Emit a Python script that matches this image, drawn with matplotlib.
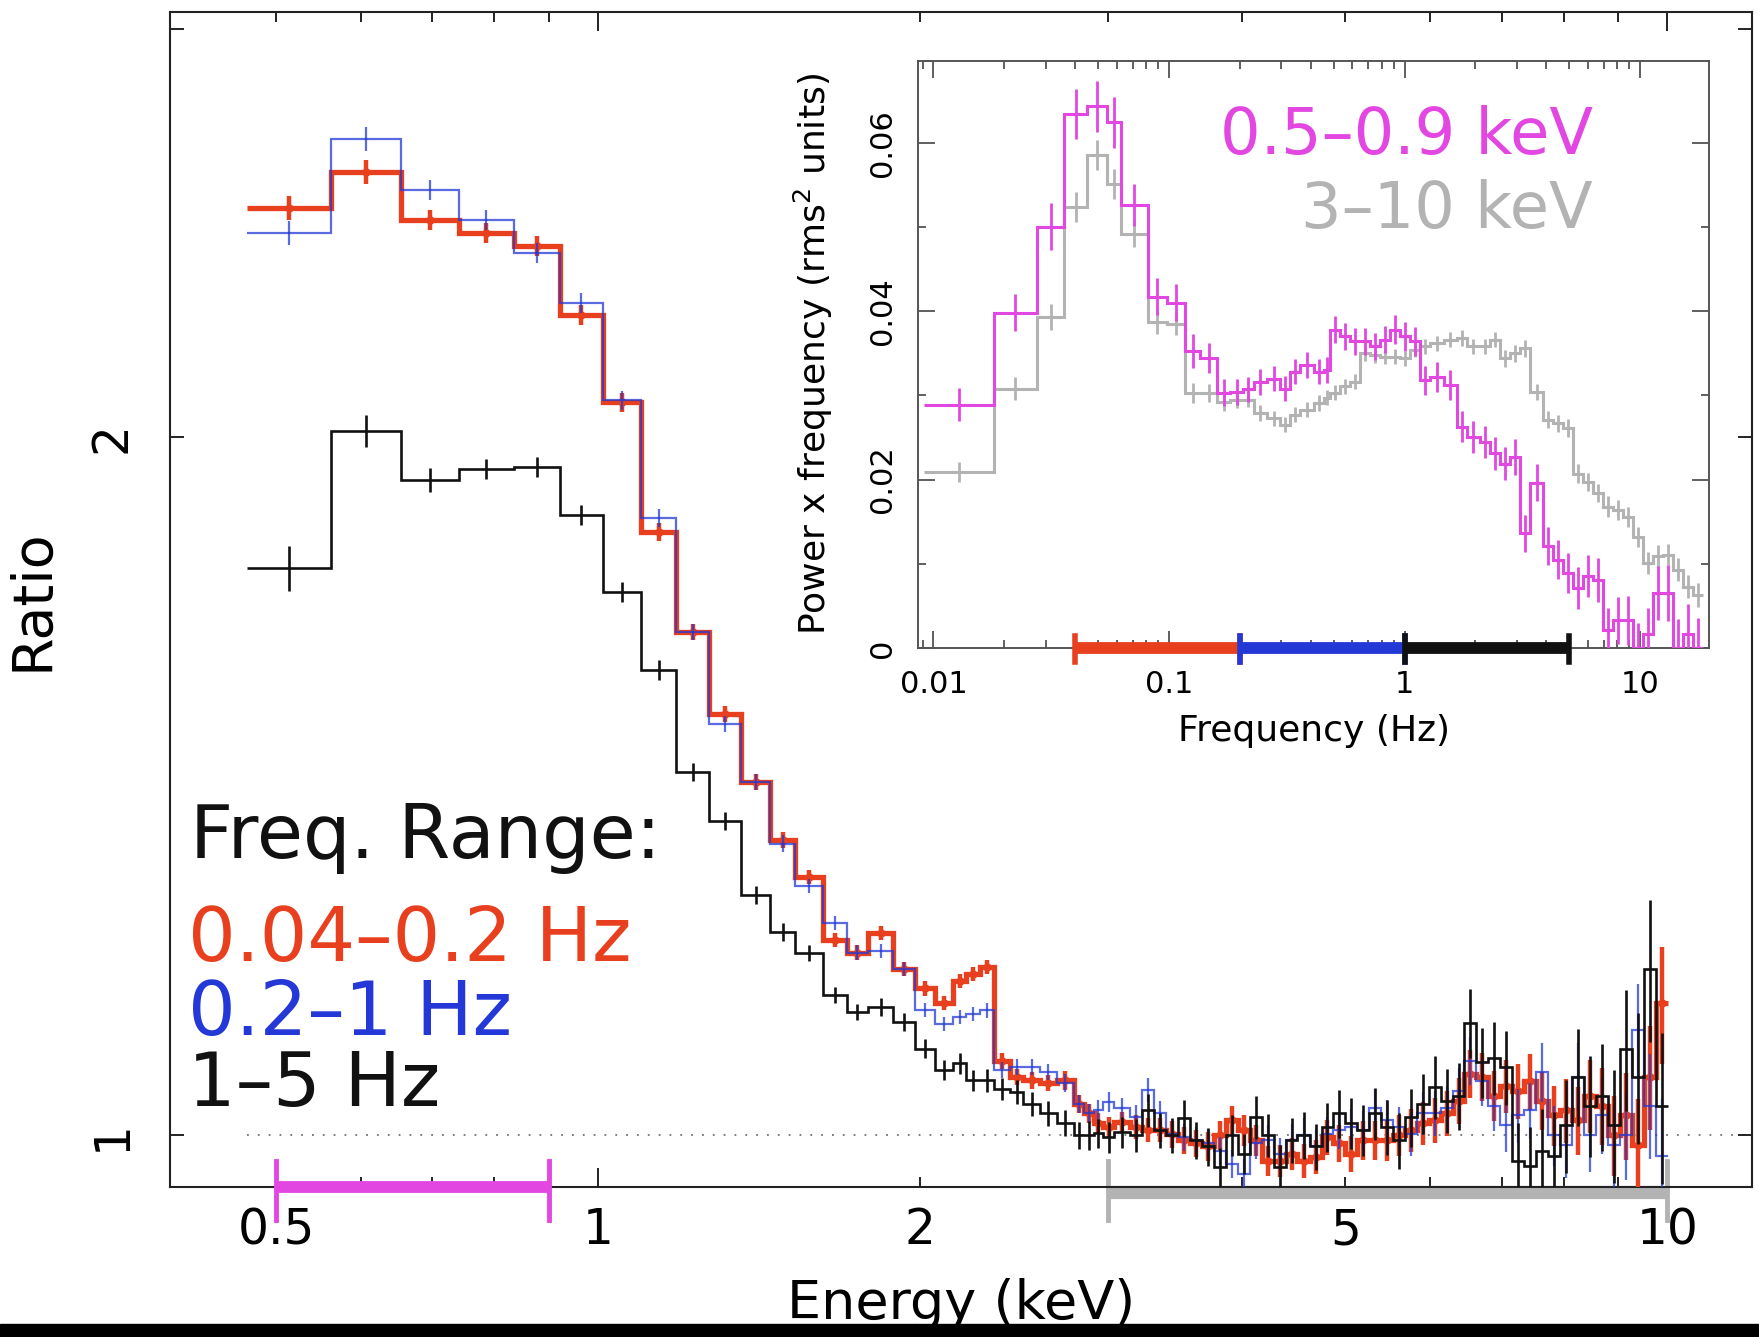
import numpy as np
import matplotlib
matplotlib.use('Agg')
import matplotlib.pyplot as plt
import matplotlib.ticker as mticker
import matplotlib.transforms as mtransforms
from matplotlib.patches import Rectangle

W, H = 1759, 1337

# ---------------- main panel: ratio spectra ----------------
# energy bin edges (keV)
e_edges = [0.47, 0.563, 0.654, 0.742, 0.834, 0.922, 1.01, 1.098, 1.184, 1.27, 1.36, 1.45, 1.529,
           1.625, 1.708, 1.79, 1.889, 1.98, 2.067, 2.15, 2.21, 2.277, 2.344, 2.43, 2.5, 2.59,
           2.687, 2.786, 2.847, 2.907, 2.97, 3.035, 3.145,
           3.23, 3.31, 3.40, 3.49, 3.58, 3.67, 3.77, 3.87, 3.97, 4.07, 4.18, 4.29, 4.40, 4.51,
           4.63, 4.75, 4.87, 5.00, 5.13, 5.26, 5.40, 5.54, 5.68, 5.83, 5.98, 6.14, 6.30,
           6.46, 6.63, 6.80, 6.98, 7.16, 7.35, 7.54, 7.74, 7.94, 8.15, 8.36, 8.58, 8.80,
           9.03, 9.27, 9.51, 9.76, 10.02]

# 0.04-0.2 Hz
ratio_red = [2.510, 2.603, 2.482, 2.449, 2.418, 2.258, 2.070, 1.820, 1.648, 1.519, 1.420, 1.341,
             1.292, 1.214, 1.199, 1.223, 1.180, 1.157, 1.140, 1.166, 1.174, 1.182, 1.077, 1.060,
             1.056, 1.053, 1.056, 1.032, 1.022, 1.012, 1.008, 1.013,
             1.008, 1.005, 1.005, 1.001, 0.995, 0.992, 0.989, 1.000, 1.015, 1.005, 0.995, 0.975,
             0.975, 0.982, 0.975, 0.979, 0.998, 0.992, 0.982, 0.995, 0.995, 0.995, 1.000, 1.005,
             1.012, 1.015, 1.022,
             1.035, 1.063, 1.060, 1.040, 1.050, 1.045, 1.055, 1.035, 1.020, 1.025, 1.015, 1.040,
             1.030, 1.000, 1.020, 0.990, 1.060, 1.140]
# 0.2-1 Hz
ratio_blue = [2.449, 2.689, 2.556, 2.482, 2.402, 2.285, 2.074, 1.845, 1.648, 1.504, 1.420, 1.336,
              1.281, 1.235, 1.199, 1.201, 1.180, 1.133, 1.117, 1.125, 1.128, 1.132, 1.067, 1.070,
              1.070, 1.065, 1.053, 1.032, 1.022, 1.025, 1.034, 1.027,
              1.018, 1.046, 1.022, 1.001, 0.998, 0.995, 0.992, 0.985, 0.972, 0.962, 0.992, 0.995,
              0.982, 0.995, 1.000, 0.989, 1.001, 1.005, 1.008, 1.005, 1.028, 1.015, 1.008, 1.001,
              1.022, 1.022, 1.028,
              1.045, 1.077, 1.055, 1.030, 1.010, 1.020, 1.025, 1.065, 1.000, 0.990, 1.060, 1.000,
              1.020, 0.990, 1.000, 1.110, 1.030, 0.980]
# 1-5 Hz
ratio_black = [1.756, 2.012, 1.916, 1.937, 1.942, 1.852, 1.715, 1.587, 1.434, 1.366, 1.270, 1.224,
               1.198, 1.150, 1.130, 1.136, 1.119, 1.090, 1.067, 1.074, 1.056, 1.056, 1.047, 1.044,
               1.032, 1.022, 1.012, 1.000, 1.000, 1.002, 0.998, 1.003,
               1.000, 1.025, 1.005, 1.000, 1.017, 0.995, 0.989, 0.969, 1.000, 0.982, 1.018, 1.000,
               0.969, 0.995, 1.000, 0.989, 1.008, 1.022, 1.012, 1.005, 1.022, 1.008, 0.995, 1.018,
               1.032, 1.049, 1.035,
               1.040, 1.118, 1.075, 1.080, 1.070, 0.975, 0.970, 0.985, 0.980, 1.010, 1.060, 1.030,
               1.040, 1.010, 1.090, 1.060, 1.180, 1.030]

# fractional 1-sigma errors
err_col = [0.012, 0.012, 0.010, 0.010, 0.010, 0.010, 0.009, 0.009, 0.008, 0.008, 0.008, 0.008,
           0.007, 0.007, 0.007, 0.007, 0.007, 0.007, 0.007, 0.007, 0.007, 0.007, 0.008, 0.008,
           0.008, 0.008, 0.009, 0.009, 0.009, 0.010, 0.010, 0.010,
           0.012, 0.012, 0.012, 0.013, 0.013, 0.013, 0.014, 0.014, 0.014, 0.015, 0.015, 0.015,
           0.016, 0.016, 0.017, 0.017, 0.017, 0.018, 0.018, 0.019, 0.019, 0.020, 0.020, 0.021,
           0.021, 0.022, 0.022,
           0.023, 0.024, 0.024, 0.025, 0.026, 0.027, 0.028, 0.029, 0.030, 0.032, 0.034, 0.036,
           0.038, 0.040, 0.043, 0.047, 0.052, 0.058]
err_blk = [0.022, 0.016, 0.012, 0.010, 0.010, 0.010, 0.010, 0.010, 0.009, 0.009, 0.009, 0.009,
           0.008, 0.008, 0.008, 0.009, 0.009, 0.009, 0.010, 0.010, 0.010, 0.011, 0.011, 0.012,
           0.012, 0.012, 0.013, 0.013, 0.014, 0.014, 0.015, 0.015,
           0.016, 0.016, 0.017, 0.017, 0.018, 0.018, 0.019, 0.019, 0.020, 0.020, 0.021, 0.021,
           0.022, 0.022, 0.023, 0.023, 0.024, 0.024, 0.025, 0.025, 0.026, 0.027, 0.028, 0.029,
           0.030, 0.031, 0.032,
           0.033, 0.034, 0.035, 0.036, 0.037, 0.038, 0.040, 0.042, 0.044, 0.046, 0.048, 0.050,
           0.053, 0.056, 0.060, 0.065, 0.070, 0.075]

# energy bands and frequency bands marked on the axes
band_soft = [0.5, 0.9]
band_hard = [3.0, 10.0]
fband_lo = [0.04, 0.2]
fband_mid = [0.2, 1.0]
fband_hi = [1.0, 5.0]

# ---------------- inset: power spectra ----------------
f_edges = [0.0091, 0.0180, 0.0275, 0.0360, 0.0449, 0.0546, 0.0626, 0.0811, 0.098, 0.1173,
           0.1358, 0.1598, 0.182, 0.206, 0.229, 0.260, 0.297, 0.327, 0.361, 0.411, 0.453,
           0.483, 0.533, 0.588, 0.648, 0.715, 0.788, 0.869, 0.958, 1.056, 1.165, 1.284,
           1.463, 1.666, 1.837, 2.093, 2.307, 2.545, 2.806, 3.094, 3.411, 3.886, 4.284,
           4.724, 5.209, 5.743, 6.332, 6.982, 7.698, 8.489, 9.361, 10.32, 11.38, 12.55,
           13.84, 15.26, 16.82, 18.55]
pow_soft = [0.0289, 0.0398, 0.0500, 0.0634, 0.0643, 0.0624, 0.0526, 0.0417, 0.0410, 0.0353,
            0.0344, 0.0303, 0.0304,
            0.0307, 0.0316, 0.0320, 0.0308, 0.0328, 0.0336, 0.0328, 0.0330, 0.0378, 0.0370,
            0.0364, 0.0364, 0.0358, 0.0366, 0.0378, 0.0370, 0.0364, 0.0318, 0.0322, 0.0312,
            0.0263, 0.0251, 0.0245, 0.0231, 0.0219, 0.0227, 0.0136, 0.0196, 0.0121, 0.0105,
            0.0089, 0.0071, 0.0085, 0.0081, 0.0021, 0.0033, 0.0033, 0.0000, 0.0017, 0.0065,
            0.0065, 0.0000, 0.0017, 0.0000]
pow_hard = [0.0209, 0.0308, 0.0393, 0.0524, 0.0585, 0.0551, 0.0492, 0.0387, 0.0385, 0.0303,
            0.0303, 0.0292, 0.0295,
            0.0295, 0.0279, 0.0273, 0.0265, 0.0277, 0.0283, 0.0291, 0.0297, 0.0303, 0.0311,
            0.0316, 0.0350, 0.0348, 0.0346, 0.0346, 0.0344, 0.0354, 0.0358, 0.0362, 0.0366,
            0.0368, 0.0358, 0.0358, 0.0366, 0.0344, 0.0350, 0.0356, 0.0304, 0.0271, 0.0267,
            0.0261, 0.0207, 0.0197, 0.0184, 0.0168, 0.0164, 0.0156, 0.0132, 0.0101, 0.0109,
            0.0111, 0.0093, 0.0073, 0.0063]
pow_soft_err = [0.0020, 0.0022, 0.0028, 0.0030, 0.0030, 0.0030, 0.0025, 0.0022, 0.0022, 0.0020,
                0.0018, 0.0016, 0.0016,
                0.0015, 0.0015, 0.0015, 0.0015, 0.0015, 0.0015, 0.0015, 0.0015, 0.0016, 0.0016,
                0.0016, 0.0016, 0.0016, 0.0016, 0.0017, 0.0017, 0.0017, 0.0017, 0.0018, 0.0018,
                0.0018, 0.0019, 0.0019, 0.0020, 0.0020, 0.0021, 0.0022, 0.0022, 0.0023, 0.0023,
                0.0024, 0.0025, 0.0025, 0.0026, 0.0027, 0.0028, 0.0029, 0.0030, 0.0031, 0.0032,
                0.0033, 0.0034, 0.0035, 0.0036]
pow_hard_err = [0.0012, 0.0014, 0.0016, 0.0018, 0.0018, 0.0018, 0.0016, 0.0014, 0.0013, 0.0012,
                0.0011, 0.0010, 0.0010,
                0.0009, 0.0009, 0.0009, 0.0009, 0.0009, 0.0009, 0.0009, 0.0009, 0.0009, 0.0009,
                0.0009, 0.0009, 0.0009, 0.0009, 0.0009, 0.0009, 0.0009, 0.0009, 0.0009, 0.0009,
                0.0009, 0.0009, 0.0009, 0.0009, 0.0010, 0.0010, 0.0010, 0.0010, 0.0010, 0.0010,
                0.0011, 0.0011, 0.0011, 0.0011, 0.0012, 0.0012, 0.0012, 0.0012, 0.0013, 0.0013,
                0.0013, 0.0014, 0.0014, 0.0014]

RED = '#e8401e'
BLUE = '#2338d6'
BLACK = '#111111'
MAGENTA = '#e247e2'
GREY = '#b3b3b3'


def fx(x):
    return x / W


def fy(y):
    return 1 - y / H


fig = plt.figure(figsize=(W / 100, H / 100), dpi=100)
ax = fig.add_axes([fx(170), fy(1187), (1752 - 170) / W, (1187 - 12) / H])

e_edges = np.array(e_edges)
e_cen = np.sqrt(e_edges[:-1] * e_edges[1:])

ax.plot([0.47, 12.0], [1, 1], ls=(0, (1, 5)), color='0.45', lw=1.3, zorder=1)

ax.stairs(ratio_red, e_edges, color=RED, lw=3.8, baseline=None, zorder=3)
ax.errorbar(e_cen, ratio_red, yerr=np.array(ratio_red) * np.array(err_col), fmt='o', ms=5,
            color=RED, ecolor=RED, elinewidth=3.2, capsize=0, zorder=3)
ax.stairs(ratio_blue, e_edges, color=BLUE, lw=1.6, baseline=None, alpha=0.75, zorder=4)
ax.errorbar(e_cen, ratio_blue, yerr=np.array(ratio_blue) * np.array(err_col), fmt='none',
            ecolor=BLUE, elinewidth=1.6, alpha=0.75, capsize=0, zorder=4)
ax.stairs(ratio_black, e_edges, color=BLACK, lw=1.9, baseline=None, zorder=5)
ax.errorbar(e_cen, ratio_black, yerr=np.array(ratio_black) * np.array(err_blk), fmt='none',
            ecolor=BLACK, elinewidth=1.9, capsize=0, zorder=5)

ax.set_xscale('log')
ax.set_yscale('log')
ax.set_xlim(0.398, 12.0)
ax.set_ylim(0.95, 3.05)

ax.xaxis.set_major_locator(mticker.FixedLocator([0.5, 1, 2, 5, 10]))
ax.xaxis.set_major_formatter(mticker.FixedFormatter(['0.5', '1', '2', '5', '10']))
ax.xaxis.set_minor_locator(mticker.FixedLocator([0.6, 0.7, 0.8, 0.9, 3, 4, 6, 7, 8, 9]))
ax.xaxis.set_minor_formatter(mticker.NullFormatter())
ax.yaxis.set_major_locator(mticker.FixedLocator([1, 2, 3]))
ax.yaxis.set_major_formatter(mticker.FixedFormatter(['1', '2', '']))
ax.yaxis.set_minor_locator(mticker.NullLocator())

ax.tick_params(which='both', direction='in', top=True, right=True, width=1.4, color='#222222')
ax.tick_params(which='major', length=14, labelsize=35)
ax.tick_params(which='minor', length=7)
ax.tick_params(axis='x', pad=14)
ax.tick_params(axis='y', which='major', length=10, labelrotation=90, pad=25)
for lbl in ax.get_yticklabels():
    lbl.set_va('center')
# shorter ticks at the labelled non-decade energies
for i in (0, 2, 3):
    t = ax.xaxis.get_major_ticks()[i]
    t.tick1line.set_markersize(7)
    t.tick2line.set_markersize(7)
for s in ax.spines.values():
    s.set_linewidth(1.5)
    s.set_color('#222222')

ax.set_xlabel('Energy (keV)', fontsize=39, labelpad=17)
ax.set_ylabel('Ratio', fontsize=40, labelpad=20)

# band markers below the energy axis
tr = mtransforms.blended_transform_factory(ax.transData, ax.transAxes)
ax.plot(band_soft, [0, 0], color=MAGENTA, lw=8.5, transform=tr, clip_on=False, zorder=6,
        solid_capstyle='butt')
for e in band_soft:
    ax.plot([e, e], [0.022, -0.028], color=MAGENTA, lw=3.5, transform=tr, clip_on=False, zorder=6)
ax.plot(band_hard, [-0.004, -0.004], color=GREY, lw=9.5, transform=tr, clip_on=False, zorder=2,
        solid_capstyle='butt')
for e in band_hard:
    ax.plot([e, e], [0.022, -0.028], color=GREY, lw=3.5, transform=tr, clip_on=False, zorder=2)

fig.text(fx(190), fy(858), 'Freq. Range:', fontsize=54, color=BLACK, va='baseline')
fig.text(fx(188), fy(961), '0.04\u20130.2 Hz', fontsize=54, color=RED, va='baseline')
fig.text(fx(188), fy(1035), '0.2\u20131 Hz', fontsize=54, color=BLUE, va='baseline')
fig.text(fx(188), fy(1106), '1\u20135 Hz', fontsize=54, color=BLACK, va='baseline')

# ---------------- inset ----------------
ins = fig.add_axes([fx(918), fy(648), (1709 - 918) / W, (648 - 61) / H])
f_edges = np.array(f_edges)
f_cen = np.sqrt(f_edges[:-1] * f_edges[1:])

ins.stairs(pow_hard, f_edges, color=GREY, lw=2.2, baseline=None, zorder=3)
ins.errorbar(f_cen, pow_hard, yerr=pow_hard_err, fmt='none', ecolor=GREY, elinewidth=2.0,
             capsize=0, zorder=3)
ins.stairs(pow_soft, f_edges, color=MAGENTA, lw=2.2, baseline=None, zorder=4)
ins.errorbar(f_cen, pow_soft, yerr=pow_soft_err, fmt='none', ecolor=MAGENTA, elinewidth=2.0,
             capsize=0, zorder=4)

for band, col in ((fband_lo, RED), (fband_mid, BLUE), (fband_hi, BLACK)):
    ins.plot(band, [0, 0], color=col, lw=8.5, clip_on=False, zorder=5, solid_capstyle='butt')
    for f in band:
        ins.plot([f, f], [0.0014, -0.0017], color=col, lw=4, clip_on=False, zorder=5)

ins.set_xscale('log')
ins.set_xlim(0.0086, 19.6)
ins.set_ylim(0, 0.0697)
ins.xaxis.set_major_locator(mticker.FixedLocator([0.01, 0.1, 1, 10]))
ins.xaxis.set_major_formatter(mticker.FixedFormatter(['0.01', '0.1', '1', '10']))
ins.xaxis.set_minor_locator(mticker.LogLocator(base=10, subs=np.arange(2, 10), numticks=20))
ins.xaxis.set_minor_formatter(mticker.NullFormatter())
ins.yaxis.set_major_locator(mticker.FixedLocator([0, 0.02, 0.04, 0.06]))
ins.yaxis.set_major_formatter(mticker.FixedFormatter(['0', '0.02', '0.04', '0.06']))
ins.yaxis.set_minor_locator(mticker.FixedLocator([0.01, 0.03, 0.05]))
ins.tick_params(which='both', direction='in', top=True, right=True, width=1.2, color='#444444')
ins.tick_params(which='major', length=12, labelsize=22)
ins.tick_params(which='minor', length=6)
ins.tick_params(axis='x', pad=16)
ins.tick_params(axis='y', labelrotation=90, pad=15)
for lbl in ins.get_yticklabels():
    lbl.set_va('center')
for s in ins.spines.values():
    s.set_linewidth(1.4)
    s.set_color('#555555')
ins.set_xlabel('Frequency (Hz)', fontsize=26, labelpad=11)
ins.set_ylabel('Power x frequency (rms$^2$ units)', fontsize=26, labelpad=24)

fig.text(fx(1593), fy(154), '0.5\u20130.9 keV', fontsize=46, color=MAGENTA, ha='right',
         va='baseline')
fig.text(fx(1593), fy(228), '3\u201310 keV', fontsize=46, color=GREY, ha='right', va='baseline')

# dark strip along the bottom edge of the original image
fig.add_artist(Rectangle((0, 0), 1, 13 / H, transform=fig.transFigure, color='black', zorder=20))

fig.savefig('out.png', dpi=100)
